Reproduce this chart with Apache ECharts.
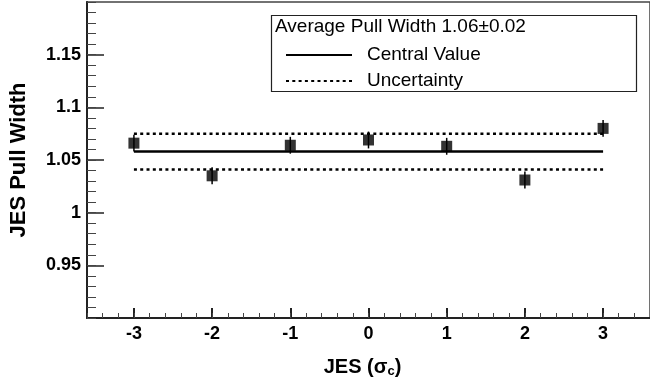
<!DOCTYPE html>
<html>
<head>
<meta charset="utf-8">
<script src="https://cdn.jsdelivr.net/npm/echarts@6/dist/echarts.min.js"></script>
<style>
  html, body { margin: 0; padding: 0; background: #fff; }
  #chart { width: 650px; height: 383px; }
</style>
</head>
<body>
<div id="chart"></div>
<script>
// JES shift points and fitted pull widths
const jesShift = [-3, -2, -1, 0, 1, 2, 3];
const pullWidth = [1.066, 1.035, 1.064, 1.069, 1.063, 1.031, 1.080];
const pullError = [0.008, 0.008, 0.008, 0.008, 0.008, 0.008, 0.008];
const centralValue = 1.058;
const uncertainty = 0.017;
const xTicks = [-3, -2, -1, 0, 1, 2, 3];
const yTicks = [0.95, 1, 1.05, 1.1, 1.15];

const font = 'Liberation Sans, Arial, Helvetica, sans-serif';
const ink = '#000';

const chart = echarts.init(document.getElementById('chart'));

const lineAt = v => [[jesShift[0], v], [jesShift[jesShift.length - 1], v]];

chart.setOption({
  animation: false,
  grid: {
    left: 84, top: 2, width: 570, height: 325,
    show: true, borderColor: '#444', borderWidth: 1.5
  },
  xAxis: [
    {
      type: 'value', min: -3.6, max: 3.6,
      name: '{t|JES (σ}{s|c}{t|)}',
      nameLocation: 'middle', nameGap: 38,
      nameTextStyle: {
        padding: [0, 12, 0, 0],
        rich: {
          t: { fontFamily: font, fontWeight: 'bold', fontSize: 20, color: ink },
          s: { fontFamily: font, fontWeight: 'bold', fontSize: 13, color: ink, verticalAlign: 'bottom', padding: [9, 0, 0, 0] }
        }
      },
      axisLine: { onZero: false, lineStyle: { color: '#222', width: 2 } },
      axisTick: { inside: true, length: 10, customValues: xTicks, lineStyle: { color: '#222', width: 2 } },
      axisLabel: { customValues: xTicks, fontFamily: font, fontWeight: 'bold', fontSize: 18, color: ink, margin: 7 },
      splitLine: { show: false }
    },
    {
      type: 'value', min: -3.6, max: 3.6, interval: 0.2, position: 'bottom',
      axisLine: { show: false, onZero: false },
      axisTick: { inside: true, length: 5, lineStyle: { color: '#444', width: 1 } },
      axisLabel: { show: false },
      splitLine: { show: false }
    }
  ],
  yAxis: [
    {
      type: 'value', min: 0.9, max: 1.2,
      name: 'JES Pull Width',
      nameLocation: 'middle', nameGap: 57,
      nameTextStyle: { fontFamily: font, fontWeight: 'bold', fontSize: 22, color: ink },
      axisLine: { onZero: false, lineStyle: { color: '#222', width: 2 } },
      axisTick: { inside: true, length: 17, customValues: yTicks, lineStyle: { color: '#222', width: 1.5 } },
      axisLabel: { customValues: yTicks, fontFamily: font, fontWeight: 'bold', fontSize: 18, color: ink, margin: 6 },
      splitLine: { show: false }
    },
    {
      type: 'value', min: 0.9, max: 1.2, interval: 0.01, position: 'left',
      axisLine: { show: false, onZero: false },
      axisTick: { inside: true, length: 9, lineStyle: { color: '#444', width: 1 } },
      axisLabel: { show: false },
      splitLine: { show: false }
    }
  ],
  legend: {
    left: 280, top: 40, orient: 'vertical',
    itemWidth: 66, itemHeight: 20, itemGap: 6,
    itemStyle: { opacity: 0 },
    data: ['Central Value', 'Uncertainty'],
    textStyle: { fontFamily: font, fontSize: 19, lineHeight: 20, color: ink, padding: [0, 0, 0, 10] }
  },
  graphic: [
    {
      type: 'rect', left: 269, top: 13,
      shape: { width: 365, height: 76 },
      style: { fill: 'none', stroke: '#222', lineWidth: 1.2 }
    },
    {
      type: 'text', left: 275, top: 17,
      style: {
        text: 'Average Pull Width ' + centralValue.toFixed(2) + '±' + uncertainty.toFixed(2),
        font: '19px ' + font, fill: ink
      }
    }
  ],
  series: [
    {
      name: 'Central Value', type: 'line', symbol: 'none',
      data: lineAt(centralValue),
      lineStyle: { color: ink, width: 2.5 }, itemStyle: { color: ink }
    },
    {
      name: 'Uncertainty', type: 'line', symbol: 'none',
      data: lineAt(centralValue + uncertainty),
      lineStyle: { color: ink, width: 2.5, type: [3, 3.3] }, itemStyle: { color: ink }
    },
    {
      name: 'Uncertainty', type: 'line', symbol: 'none',
      data: lineAt(centralValue - uncertainty),
      lineStyle: { color: ink, width: 2.5, type: [3, 3.3] }, itemStyle: { color: ink }
    },
    {
      type: 'custom',
      data: jesShift.map((x, i) => [x, pullWidth[i] - pullError[i], pullWidth[i] + pullError[i]]),
      renderItem(params, api) {
        const lo = api.coord([api.value(0), api.value(1)]);
        const hi = api.coord([api.value(0), api.value(2)]);
        return {
          type: 'line',
          shape: { x1: lo[0], y1: lo[1], x2: hi[0], y2: hi[1] },
          style: { stroke: ink, lineWidth: 1.5 }
        };
      },
      z: 3
    },
    {
      type: 'scatter', symbol: 'rect', symbolSize: 11,
      data: jesShift.map((x, i) => [x, pullWidth[i]]),
      itemStyle: { color: ink },
      z: 4
    }
  ]
});
</script>
</body>
</html>
